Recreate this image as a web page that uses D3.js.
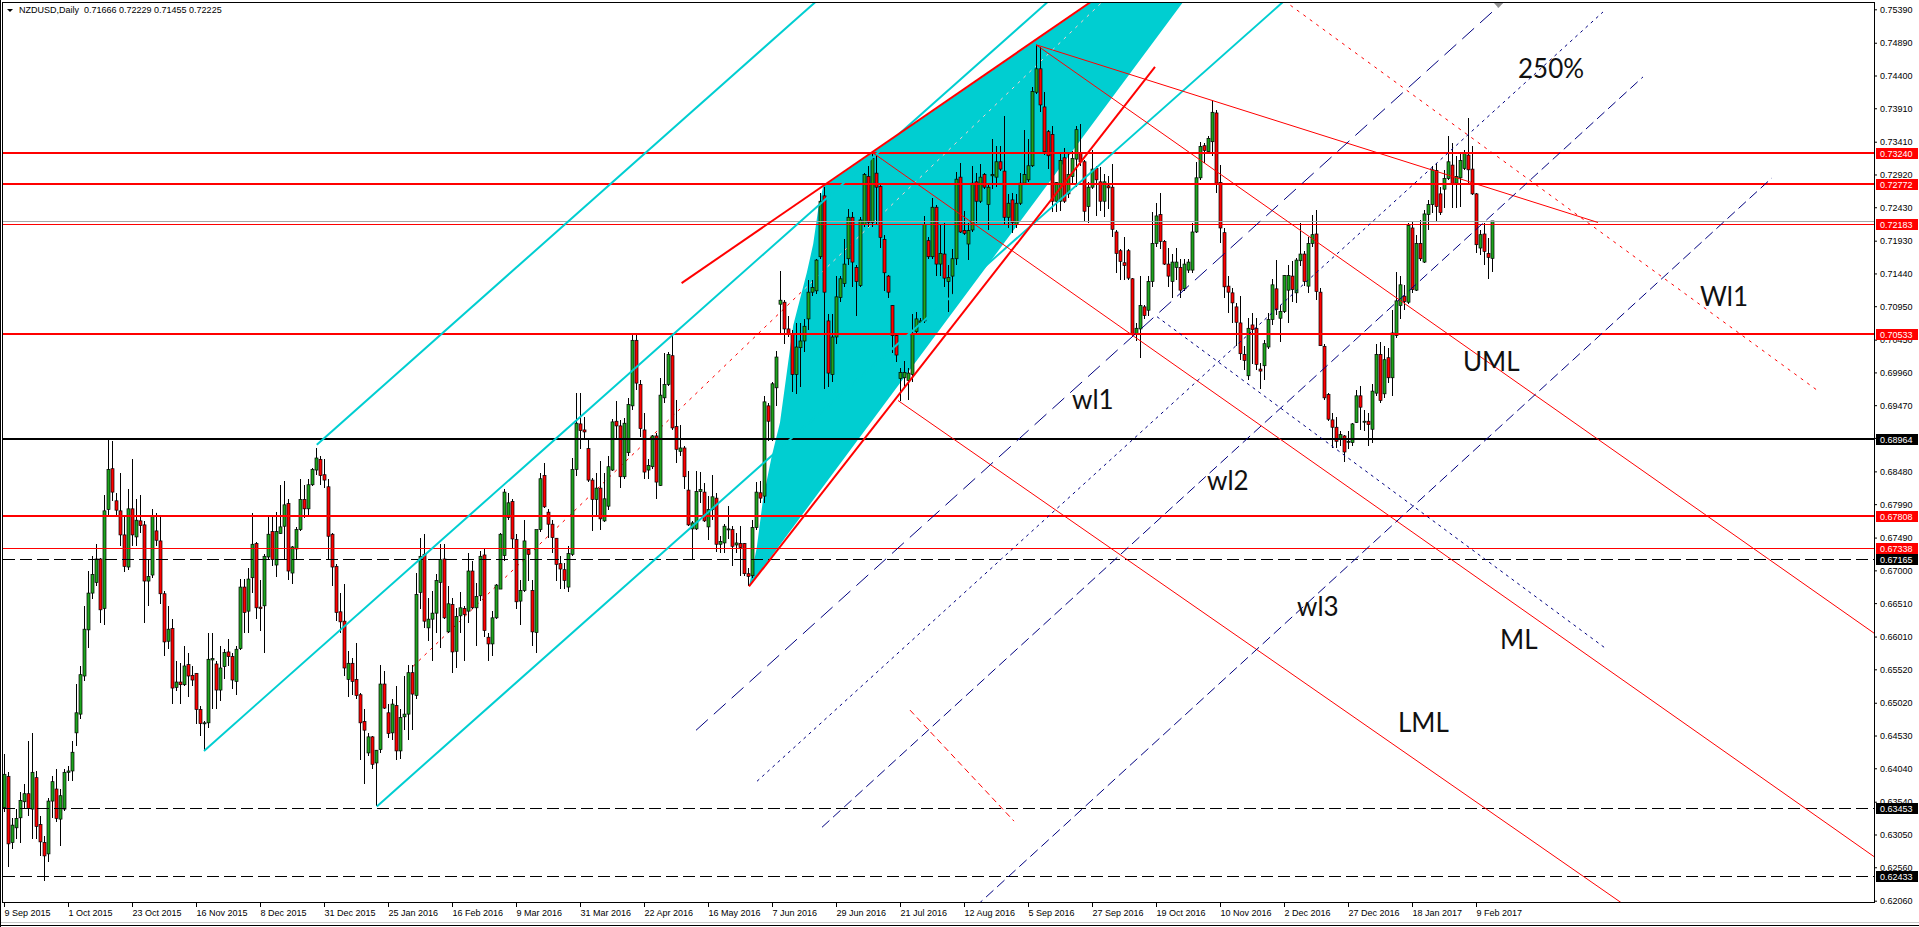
<!DOCTYPE html>
<html>
<head>
<meta charset="utf-8">
<script src="https://cdn.jsdelivr.net/npm/d3@7"></script>
<style>
body { margin:0; background:#fff; }
svg { display:block; }
.axis text, .hdr, .box text { font-family:"Liberation Sans", Arial, sans-serif; font-size:9px; }
.note { font-family:Lato, "Open Sans", sans-serif; font-size:26px; fill:#111; }
</style>
</head>
<body>
<svg id="chart" width="1919" height="927"></svg>
<script>
// ---- data ----
const header = "NZDUSD,Daily  0.71666 0.72229 0.71455 0.72225";

const dateLabels = ["9 Sep 2015","1 Oct 2015","23 Oct 2015","16 Nov 2015","8 Dec 2015","31 Dec 2015",
  "25 Jan 2016","16 Feb 2016","9 Mar 2016","31 Mar 2016","22 Apr 2016","16 May 2016","7 Jun 2016",
  "29 Jun 2016","21 Jul 2016","12 Aug 2016","5 Sep 2016","27 Sep 2016","19 Oct 2016","10 Nov 2016",
  "2 Dec 2016","27 Dec 2016","18 Jan 2017","9 Feb 2017"];

const priceTicks = ["0.75390","0.74890","0.74400","0.73910","0.73410","0.72920","0.72430","0.71930",
  "0.71440","0.70950","0.70450","0.69960","0.69470","0.68980","0.68480","0.67990","0.67490","0.67000",
  "0.66510","0.66010","0.65520","0.65020","0.64530","0.64040","0.63540","0.63050","0.62560","0.62060"];

// horizontal levels and their kind
const levels     = [0.73240, 0.72772, 0.72183, 0.70533, 0.68964, 0.67808, 0.67338, 0.67165, 0.63453, 0.62433];
const levelKinds = ["redThick","redThick","red","redThick","black","redThick","red","blackDash","blackDash","blackDash"];

// daily bars [open, high, low, close], first bar = 9 Sep 2015
const ohlc = [
[0.6345,0.6425,0.6338,0.6395],[0.6392,0.6398,0.6256,0.6291],[0.6293,0.6330,0.6283,0.6319],[0.6315,0.6343,0.6298,0.6329],[0.6330,0.6368,0.6293,0.6356],
[0.6354,0.6380,0.6345,0.6366],[0.6366,0.6445,0.6333,0.6344],[0.6343,0.6457,0.6298,0.6398],[0.6390,0.6400,0.6298,0.6317],[0.6320,0.6333,0.6273,0.6294],
[0.6293,0.6303,0.6236,0.6273],[0.6276,0.6360,0.6264,0.6355],[0.6355,0.6393,0.6330,0.6384],[0.6373,0.6403,0.6323,0.6329],[0.6328,0.6373,0.6288,0.6363],
[0.6343,0.6403,0.6340,0.6398],[0.6398,0.6408,0.6385,0.6400],[0.6400,0.6445,0.6385,0.6428],[0.6457,0.6530,0.6437,0.6487],[0.6485,0.6557,0.6477,0.6544],
[0.6542,0.6647,0.6534,0.6612],[0.6611,0.6699,0.6584,0.6666],[0.6666,0.6721,0.6657,0.6694],[0.6682,0.6740,0.6676,0.6717],[0.6717,0.6719,0.6621,0.6641],
[0.6643,0.6813,0.6618,0.6789],[0.6791,0.6896,0.6783,0.6851],[0.6852,0.6893,0.6803,0.6817],[0.6804,0.6816,0.6781,0.6790],[0.6789,0.6846,0.6736,0.6753],
[0.6753,0.6781,0.6698,0.6706],[0.6705,0.6821,0.6701,0.6792],[0.6792,0.6866,0.6736,0.6753],[0.6750,0.6806,0.6736,0.6775],[0.6774,0.6813,0.6756,0.6767],
[0.6768,0.6774,0.6622,0.6684],[0.6684,0.6716,0.6647,0.6691],[0.6693,0.6792,0.6689,0.6781],[0.6759,0.6786,0.6736,0.6745],[0.6744,0.6781,0.6650,0.6665],
[0.6665,0.6669,0.6572,0.6593],[0.6594,0.6647,0.6582,0.6612],[0.6613,0.6627,0.6500,0.6524],[0.6525,0.6564,0.6520,0.6533],[0.6533,0.6562,0.6500,0.6529],
[0.6529,0.6587,0.6527,0.6557],[0.6559,0.6577,0.6510,0.6542],[0.6543,0.6557,0.6527,0.6536],[0.6546,0.6547,0.6470,0.6492],[0.6492,0.6497,0.6452,0.6471],
[0.6471,0.6475,0.6430,0.6472],[0.6472,0.6607,0.6465,0.6567],[0.6566,0.6607,0.6492,0.6568],[0.6560,0.6564,0.6492,0.6521],[0.6521,0.6587,0.6505,0.6554],
[0.6556,0.6583,0.6537,0.6577],[0.6578,0.6597,0.6557,0.6571],[0.6571,0.6577,0.6522,0.6536],[0.6534,0.6587,0.6513,0.6582],[0.6583,0.6687,0.6581,0.6675],
[0.6675,0.6687,0.6607,0.6637],[0.6639,0.6704,0.6607,0.6687],[0.6689,0.6786,0.6666,0.6739],[0.6740,0.6742,0.6627,0.6644],[0.6645,0.6686,0.6609,0.6643],
[0.6647,0.6724,0.6577,0.6721],[0.6720,0.6781,0.6717,0.6754],[0.6758,0.6782,0.6706,0.6716],[0.6708,0.6788,0.6690,0.6758],[0.6755,0.6827,0.6754,0.6765],
[0.6766,0.6834,0.6717,0.6798],[0.6800,0.6806,0.6685,0.6699],[0.6696,0.6736,0.6680,0.6735],[0.6732,0.6765,0.6716,0.6761],[0.6761,0.6836,0.6759,0.6806],
[0.6806,0.6828,0.6778,0.6792],[0.6792,0.6837,0.6781,0.6828],[0.6828,0.6853,0.6826,0.6851],[0.6850,0.6883,0.6843,0.6868],[0.6866,0.6871,0.6828,0.6842],
[0.6843,0.6867,0.6823,0.6835],[0.6825,0.6836,0.6717,0.6751],[0.6754,0.6756,0.6676,0.6705],[0.6706,0.6709,0.6624,0.6637],[0.6638,0.6666,0.6607,0.6623],
[0.6624,0.6679,0.6542,0.6554],[0.6537,0.6579,0.6510,0.6561],[0.6561,0.6569,0.6514,0.6534],[0.6537,0.6591,0.6507,0.6513],[0.6514,0.6516,0.6417,0.6472],
[0.6474,0.6492,0.6380,0.6461],[0.6427,0.6457,0.6422,0.6451],[0.6451,0.6452,0.6403,0.6410],[0.6412,0.6432,0.6347,0.6431],[0.6432,0.6559,0.6427,0.6530],
[0.6530,0.6549,0.6492,0.6494],[0.6487,0.6500,0.6450,0.6456],[0.6457,0.6507,0.6447,0.6500],[0.6498,0.6527,0.6417,0.6430],[0.6430,0.6492,0.6418,0.6480],
[0.6481,0.6542,0.6462,0.6485],[0.6485,0.6559,0.6447,0.6547],[0.6547,0.6559,0.6462,0.6515],[0.6513,0.6696,0.6507,0.6664],[0.6667,0.6749,0.6642,0.6721],
[0.6724,0.6754,0.6614,0.6624],[0.6614,0.6659,0.6594,0.6627],[0.6627,0.6669,0.6564,0.6636],[0.6636,0.6694,0.6606,0.6685],[0.6682,0.6739,0.6584,0.6716],
[0.6717,0.6739,0.6627,0.6629],[0.6608,0.6677,0.6607,0.6650],[0.6649,0.6659,0.6546,0.6578],[0.6579,0.6644,0.6554,0.6631],[0.6632,0.6667,0.6607,0.6644],
[0.6643,0.6647,0.6564,0.6634],[0.6639,0.6726,0.6622,0.6699],[0.6699,0.6714,0.6642,0.6644],[0.6644,0.6681,0.6587,0.6661],[0.6662,0.6729,0.6654,0.6721],
[0.6723,0.6734,0.6600,0.6610],[0.6600,0.6607,0.6564,0.6590],[0.6590,0.6639,0.6572,0.6629],[0.6629,0.6679,0.6627,0.6678],[0.6672,0.6756,0.6672,0.6754],
[0.6722,0.6821,0.6714,0.6817],[0.6779,0.6816,0.6776,0.6801],[0.6803,0.6806,0.6734,0.6747],[0.6746,0.6754,0.6642,0.6653],[0.6654,0.6686,0.6618,0.6670],
[0.6670,0.6775,0.6667,0.6744],[0.6731,0.6734,0.6684,0.6724],[0.6670,0.6686,0.6587,0.6608],[0.6607,0.6761,0.6577,0.6761],[0.6761,0.6846,0.6758,0.6837],
[0.6842,0.6861,0.6793,0.6795],[0.6787,0.6792,0.6749,0.6769],[0.6769,0.6776,0.6726,0.6749],[0.6748,0.6749,0.6684,0.6709],[0.6710,0.6721,0.6672,0.6702],
[0.6701,0.6711,0.6672,0.6685],[0.6675,0.6736,0.6667,0.6725],[0.6724,0.6868,0.6721,0.6851],[0.6851,0.6965,0.6841,0.6920],[0.6919,0.6965,0.6881,0.6909],
[0.6910,0.6930,0.6896,0.6907],[0.6882,0.6896,0.6832,0.6835],[0.6835,0.6838,0.6759,0.6806],[0.6806,0.6846,0.6781,0.6823],[0.6823,0.6863,0.6761,0.6777],
[0.6774,0.6846,0.6772,0.6807],[0.6796,0.6871,0.6791,0.6855],[0.6850,0.6926,0.6848,0.6922],[0.6923,0.6953,0.6896,0.6916],[0.6916,0.6925,0.6823,0.6840],
[0.6840,0.6928,0.6836,0.6920],[0.6876,0.6958,0.6871,0.6948],[0.6946,0.7055,0.6940,0.7044],[0.7044,0.7055,0.6970,0.6980],[0.6978,0.6984,0.6900,0.6912],
[0.6910,0.6935,0.6836,0.6847],[0.6850,0.6866,0.6836,0.6857],[0.6855,0.6903,0.6851,0.6901],[0.6901,0.6906,0.6806,0.6832],[0.6827,0.6988,0.6826,0.6962],
[0.6958,0.7025,0.6950,0.6978],[0.6978,0.7026,0.6975,0.7023],[0.7021,0.7055,0.6910,0.6913],[0.6915,0.6955,0.6861,0.6881],[0.6878,0.6918,0.6871,0.6883],
[0.6883,0.6886,0.6821,0.6840],[0.6820,0.6848,0.6766,0.6768],[0.6762,0.6774,0.6716,0.6771],[0.6762,0.6848,0.6761,0.6818],[0.6818,0.6847,0.6801,0.6821],
[0.6817,0.6831,0.6772,0.6774],[0.6765,0.6811,0.6746,0.6791],[0.6791,0.6843,0.6776,0.6810],[0.6808,0.6816,0.6728,0.6739],[0.6739,0.6751,0.6726,0.6743],
[0.6741,0.6769,0.6726,0.6766],[0.6761,0.6796,0.6747,0.6762],[0.6761,0.6766,0.6706,0.6736],[0.6738,0.6756,0.6726,0.6741],[0.6740,0.6766,0.6692,0.6734],
[0.6740,0.6741,0.6691,0.6695],[0.6695,0.6704,0.6676,0.6691],[0.6692,0.6776,0.6689,0.6764],[0.6764,0.6832,0.6761,0.6817],[0.6816,0.6833,0.6801,0.6808],
[0.6811,0.6960,0.6801,0.6952],[0.6946,0.6950,0.6893,0.6923],[0.6896,0.6981,0.6893,0.6979],[0.6973,0.7028,0.6946,0.7019],[0.7098,0.7148,0.7054,0.7104],
[0.7101,0.7105,0.7039,0.7061],[0.7061,0.7081,0.7049,0.7054],[0.7054,0.7059,0.6966,0.6993],[0.6993,0.7070,0.6963,0.7034],[0.7033,0.7070,0.6974,0.7043],
[0.7043,0.7076,0.7027,0.7065],[0.7076,0.7134,0.7060,0.7116],[0.7116,0.7134,0.7110,0.7123],[0.7118,0.7166,0.7113,0.7164],[0.7169,0.7265,0.7166,0.7252],
[0.7260,0.7273,0.6971,0.7116],[0.7073,0.7084,0.6974,0.6995],[0.6993,0.7084,0.6982,0.7049],[0.7049,0.7140,0.7038,0.7109],[0.7108,0.7140,0.7102,0.7136],
[0.7129,0.7196,0.7124,0.7158],[0.7166,0.7241,0.7156,0.7228],[0.7228,0.7236,0.7124,0.7161],[0.7153,0.7156,0.7081,0.7132],[0.7126,0.7228,0.7124,0.7224],
[0.7217,0.7294,0.7214,0.7292],[0.7289,0.7305,0.7214,0.7220],[0.7220,0.7324,0.7214,0.7316],[0.7294,0.7320,0.7217,0.7273],[0.7274,0.7276,0.7182,0.7198],
[0.7195,0.7201,0.7118,0.7145],[0.7140,0.7141,0.7108,0.7116],[0.7096,0.7097,0.7025,0.7051],[0.7051,0.7054,0.7011,0.7022],[0.6987,0.7003,0.6953,0.6996],
[0.6988,0.7013,0.6974,0.6996],[0.6984,0.7003,0.6955,0.6995],[0.6993,0.7084,0.6982,0.7054],[0.7057,0.7086,0.7054,0.7076],[0.7071,0.7078,0.7068,0.7073],
[0.7073,0.7230,0.7070,0.7217],[0.7193,0.7198,0.7166,0.7169],[0.7169,0.7257,0.7166,0.7243],[0.7243,0.7247,0.7140,0.7158],[0.7158,0.7217,0.7140,0.7174],
[0.7173,0.7220,0.7124,0.7137],[0.7132,0.7157,0.7086,0.7138],[0.7140,0.7180,0.7110,0.7166],[0.7166,0.7295,0.7156,0.7285],[0.7288,0.7309,0.7204,0.7206],
[0.7208,0.7238,0.7201,0.7204],[0.7188,0.7220,0.7164,0.7208],[0.7209,0.7305,0.7206,0.7279],[0.7281,0.7294,0.7220,0.7252],[0.7252,0.7308,0.7249,0.7288],
[0.7292,0.7294,0.7271,0.7273],[0.7247,0.7276,0.7209,0.7273],[0.7290,0.7345,0.7271,0.7292],[0.7288,0.7335,0.7273,0.7311],[0.7311,0.7335,0.7297,0.7300],
[0.7297,0.7380,0.7217,0.7228],[0.7228,0.7263,0.7212,0.7249],[0.7254,0.7265,0.7204,0.7220],[0.7217,0.7263,0.7212,0.7249],[0.7249,0.7294,0.7247,0.7279],
[0.7279,0.7359,0.7276,0.7292],[0.7284,0.7345,0.7281,0.7305],[0.7305,0.7423,0.7303,0.7416],[0.7415,0.7486,0.7412,0.7450],[0.7450,0.7482,0.7385,0.7396],
[0.7393,0.7415,0.7321,0.7326],[0.7356,0.7359,0.7300,0.7320],[0.7352,0.7364,0.7236,0.7252],[0.7252,0.7281,0.7236,0.7280],[0.7252,0.7324,0.7238,0.7313],
[0.7317,0.7332,0.7249,0.7252],[0.7263,0.7324,0.7257,0.7292],[0.7289,0.7327,0.7279,0.7316],[0.7315,0.7364,0.7273,0.7359],[0.7325,0.7368,0.7305,0.7311],
[0.7311,0.7313,0.7222,0.7237],[0.7244,0.7281,0.7220,0.7273],[0.7273,0.7329,0.7271,0.7300],[0.7301,0.7305,0.7230,0.7284],[0.7281,0.7303,0.7238,0.7252],
[0.7252,0.7292,0.7228,0.7281],[0.7275,0.7289,0.7241,0.7272],[0.7273,0.7308,0.7198,0.7210],[0.7206,0.7209,0.7145,0.7174],[0.7178,0.7180,0.7134,0.7162],
[0.7160,0.7198,0.7134,0.7156],[0.7178,0.7180,0.7134,0.7137],[0.7136,0.7137,0.7049,0.7054],[0.7053,0.7070,0.7043,0.7062],[0.7061,0.7140,0.7018,0.7096],
[0.7094,0.7097,0.7076,0.7081],[0.7089,0.7140,0.7081,0.7132],[0.7132,0.7236,0.7124,0.7189],[0.7189,0.7249,0.7183,0.7230],[0.7232,0.7265,0.7181,0.7192],
[0.7192,0.7194,0.7156,0.7158],[0.7158,0.7182,0.7124,0.7140],[0.7132,0.7173,0.7108,0.7161],[0.7153,0.7182,0.7134,0.7161],[0.7153,0.7166,0.7108,0.7119],
[0.7121,0.7166,0.7118,0.7158],[0.7149,0.7166,0.7145,0.7161],[0.7149,0.7220,0.7145,0.7206],[0.7206,0.7311,0.7204,0.7287],[0.7287,0.7341,0.7284,0.7334],
[0.7335,0.7339,0.7309,0.7328],[0.7326,0.7349,0.7323,0.7346],[0.7341,0.7403,0.7319,0.7385],[0.7384,0.7389,0.7264,0.7279],[0.7280,0.7306,0.7189,0.7212],
[0.7205,0.7212,0.7107,0.7124],[0.7125,0.7140,0.7085,0.7116],[0.7115,0.7122,0.7070,0.7100],[0.7094,0.7100,0.7035,0.7071],[0.7070,0.7110,0.7015,0.7024],
[0.7023,0.7035,0.7000,0.7014],[0.6991,0.7077,0.6985,0.7062],[0.7067,0.7085,0.7008,0.7060],[0.7062,0.7077,0.7000,0.7008],[0.7001,0.7010,0.6971,0.6998],
[0.7006,0.7045,0.6985,0.7039],[0.7034,0.7085,0.7031,0.7075],[0.7075,0.7135,0.7067,0.7127],[0.7121,0.7164,0.7082,0.7090],[0.7077,0.7097,0.7042,0.7087],
[0.7087,0.7142,0.7085,0.7141],[0.7119,0.7157,0.7070,0.7141],[0.7140,0.7162,0.7102,0.7120],[0.7115,0.7167,0.7100,0.7164],[0.7163,0.7219,0.7155,0.7173],
[0.7173,0.7177,0.7125,0.7132],[0.7125,0.7199,0.7115,0.7189],[0.7189,0.7232,0.7184,0.7202],[0.7203,0.7239,0.7105,0.7117],[0.7116,0.7122,0.7035,0.7036],
[0.7035,0.7038,0.6955,0.6958],[0.6963,0.6965,0.6923,0.6926],[0.6925,0.6935,0.6883,0.6914],[0.6914,0.6930,0.6883,0.6893],[0.6896,0.6908,0.6886,0.6903],
[0.6901,0.6903,0.6862,0.6877],[0.6892,0.6908,0.6881,0.6893],[0.6891,0.6920,0.6886,0.6919],[0.6921,0.6970,0.6920,0.6961],[0.6961,0.6975,0.6910,0.6944],
[0.6922,0.6940,0.6908,0.6923],[0.6923,0.6935,0.6886,0.6918],[0.6911,0.6979,0.6891,0.6968],[0.6965,0.7038,0.6960,0.7023],[0.7023,0.7042,0.6950,0.6954],
[0.6964,0.7035,0.6958,0.7015],[0.7018,0.7033,0.6980,0.6988],[0.6988,0.7090,0.6960,0.7055],[0.7051,0.7146,0.7048,0.7103],[0.7096,0.7140,0.7076,0.7127],
[0.7110,0.7127,0.7090,0.7102],[0.7101,0.7219,0.7099,0.7216],[0.7212,0.7222,0.7115,0.7120],[0.7119,0.7202,0.7117,0.7189],[0.7189,0.7224,0.7162,0.7166],
[0.7161,0.7239,0.7160,0.7233],[0.7232,0.7254,0.7209,0.7247],[0.7247,0.7304,0.7234,0.7299],[0.7298,0.7309,0.7222,0.7244],[0.7263,0.7274,0.7232,0.7235],
[0.7270,0.7299,0.7242,0.7286],[0.7286,0.7350,0.7284,0.7311],[0.7306,0.7339,0.7242,0.7278],[0.7279,0.7319,0.7242,0.7289],[0.7287,0.7326,0.7244,0.7313],
[0.7301,0.7329,0.7299,0.7324],[0.7321,0.7376,0.7279,0.7299],[0.7300,0.7334,0.7262,0.7263],[0.7263,0.7264,0.7174,0.7187],[0.7182,0.7209,0.7172,0.7202],
[0.7203,0.7219,0.7157,0.7177],[0.7174,0.7197,0.7135,0.7168],[0.71666,0.72229,0.71455,0.72225]
];

// drawn objects, anchors as [bar index, price]
// [kind, i1, p1, i2, p2, ray]
const drawnLines = [
  ["cyan", 78.2, 0.6888, 178.2, 0.7419, 1],
  ["cyan", 50, 0.6430, 150, 0.6961, 1],
  ["cyan", 93.2, 0.6347, 193.2, 0.6878, 1],
  ["redThick", 169.4, 0.71295, 261.5, 0.75081, 1],
  ["redThick", 186.25, 0.6676, 287.75, 0.74528, 0],
  ["red", 258, 0.7486, 467.25, 0.66072, 1],
  ["red", 217.3, 0.7324, 467.25, 0.62730, 1],
  ["red", 223.5, 0.6954, 404, 0.62043, 1],
  ["red", 258, 0.7486, 398.5, 0.72202, 0],
  ["redDot", 320, 0.7552, 453.6, 0.6968, 0],
  ["redDash", 226.5, 0.6491, 252.5, 0.6325, 0],
  ["navyLong", 173, 0.64608, 352.3, 0.74284, 1],
  ["navyDot", 188.25, 0.63846, 399.75, 0.7535, 0],
  ["navyDash", 204.5, 0.63158, 409.75, 0.74379, 0],
  ["navyDash", 242.75, 0.61963, 442, 0.72870, 0],
  ["navyDot", 288.25, 0.70793, 400.75, 0.65818, 0]
];
// dotted red ray that runs under the cyan shape
const underLine = [102.25, 0.65564, 267.3, 0.75081];
// cyan filled shape
const fillShape = [[186.25,0.6676],[188.2,0.6734],[189.75,0.6806],[191.9,0.6870],[194,0.6921],
  [197.3,0.7066],[200.7,0.7145],[202.3,0.7188],[203.6,0.7242],[204.8,0.7274],[318.5,0.7741]];
// text objects [text, bar index, price]
const notes = [["250%",378.5,0.74364],["Wl1",424,0.70947],["UML",364.75,0.69976],["wl1",267,0.69419],
  ["wl2",300.75,0.68208],["wl3",323.25,0.66311],["ML",374,0.65818],["LML",348.5,0.64578]];

// ---- styles ----
const styles = {
  cyan:{stroke:"#00ced1", w:2},
  redThick:{stroke:"#ff0000", w:2},
  red:{stroke:"#ff0000", w:1},
  redDot:{stroke:"#ff0000", w:1, dash:"3,5"},
  redDash:{stroke:"#ff0000", w:1, dash:"6,4"},
  black:{stroke:"#000", w:2},
  blackDash:{stroke:"#000", w:1, dash:"12,5"},
  navyLong:{stroke:"#00007f", w:1, dash:"16,8"},
  navyDot:{stroke:"#00007f", w:1, dash:"3,4"},
  navyDash:{stroke:"#00007f", w:1, dash:"10,5"}
};

// ---- scales ----
const x = d3.scaleLinear().domain([0, 467.5]).range([4, 1874]);
const y = d3.scaleLinear().domain([0.62060, 0.75390]).range([900.7, 9.3]);

const svg = d3.select("#chart");
svg.append("rect").attr("width",1919).attr("height",927).attr("fill","#fff");

const defs = svg.append("defs");
defs.append("clipPath").attr("id","plotClip").append("rect")
  .attr("x",3).attr("y",3).attr("width",1871).attr("height",899);

const path = d3.line().x(d => x(d[0])).y(d => y(d[1]));
function seg(i1, p1, i2, p2, ray) {
  if (ray) { i2 = i1 + (i2 - i1) * 4; p2 = p1 + (p2 - p1) * 4; }
  return [[i1, p1], [i2, p2]];
}
function styleLine(sel, s) {
  sel.attr("fill","none").attr("stroke", s.stroke).attr("stroke-width", s.w)
     .attr("stroke-dasharray", s.dash || null);
}

const fillD = path(fillShape) + "Z";
defs.append("clipPath").attr("id","fillClip").append("path").attr("d", fillD);

const plot = svg.append("g").attr("clip-path","url(#plotClip)");

// background objects
const back = plot.append("g");
styleLine(back.append("path").attr("d", path(seg(...underLine, 1))), styles.redDot);
back.append("path").attr("d", fillD).attr("fill","#00ced1");
back.append("path").attr("d", path(seg(...underLine, 1)))
  .attr("clip-path","url(#fillClip)")
  .attr("fill","none").attr("stroke","#ffd0d2").attr("stroke-width",1).attr("stroke-dasharray","3,5");

// candles
const bars = plot.append("g");
bars.selectAll("line").data(ohlc).join("line")
  .attr("x1",(d,i) => x(i) + 0.5).attr("x2",(d,i) => x(i) + 0.5)
  .attr("y1",d => y(d[1])).attr("y2",d => y(d[2]))
  .attr("stroke","#000").attr("stroke-width",1).attr("shape-rendering","crispEdges");
bars.selectAll("rect").data(ohlc).join("rect")
  .attr("x",(d,i) => x(i) - 1).attr("width",3)
  .attr("y",d => y(Math.max(d[0], d[3])))
  .attr("height",d => Math.max(1, Math.abs(y(d[0]) - y(d[3]))))
  .attr("fill",d => d[3] >= d[0] ? "#1ea51e" : "#ff0000")
  .attr("stroke","#000").attr("stroke-width",0.7);

// horizontal levels + bid line
const last = ohlc[ohlc.length - 1];
plot.append("line").attr("x1",3).attr("x2",1874).attr("y1",Math.round(y(last[3]))+0.5).attr("y2",Math.round(y(last[3]))+0.5)
  .attr("stroke","#a8a8a8").attr("stroke-width",1);
levels.forEach((p, k) => {
  const s = styles[levelKinds[k]];
  const yy = s.w === 2 ? Math.round(y(p)) : Math.round(y(p)) + 0.5;
  styleLine(plot.append("line").attr("x1",3).attr("x2",1874).attr("y1",yy).attr("y2",yy), s);
});

// trend lines / channels / pitchfork
drawnLines.forEach(l => {
  styleLine(plot.append("path").attr("d", path(seg(l[1], l[2], l[3], l[4], l[5]))), styles[l[0]]);
});

// text objects
plot.selectAll("text.note").data(notes).join("text").attr("class","note")
  .attr("x",d => x(d[1])).attr("y",d => y(d[2])).text(d => d[0]);

// frame
svg.append("rect").attr("x",2.5).attr("y",2.5).attr("width",1872).attr("height",900)
  .attr("fill","none").attr("stroke","#000").attr("stroke-width",1);

// chart shift marker
svg.append("path").attr("d","M1494,3 L1503,3 L1498.5,8 Z").attr("fill","#909090");

// price axis
const yAxis = svg.append("g").attr("class","axis").attr("transform","translate(1874,0)")
  .call(d3.axisRight(y).tickValues(priceTicks.map(Number)).tickSize(3).tickPadding(3)
    .tickFormat((d, k) => priceTicks[k]));
yAxis.select(".domain").remove();
yAxis.selectAll("text").attr("fill","#000");

// time axis
const xAxis = svg.append("g").attr("class","axis").attr("transform","translate(0,902)")
  .call(d3.axisBottom(x).tickValues(dateLabels.map((d, k) => k * 16)).tickSize(5).tickPadding(3)
    .tickFormat((d, k) => dateLabels[k]));
xAxis.select(".domain").remove();
xAxis.selectAll("text").attr("text-anchor","start").attr("x",0).attr("fill","#000");

// level price boxes
const box = svg.append("g").attr("class","box");
levels.forEach((p, k) => {
  const col = levelKinds[k].startsWith("red") ? "#ff0000" : "#000";
  const yy = Math.round(y(p));
  box.append("rect").attr("x",1876).attr("y",yy - 5).attr("width",42).attr("height",11).attr("fill",col);
  box.append("text").attr("x",1880).attr("y",yy + 4).attr("fill","#fff").text(p.toFixed(5));
});

// header
svg.append("path").attr("d","M7,9 L13,9 L10,12 Z").attr("fill","#000");
svg.append("text").attr("class","hdr").attr("x",19).attr("y",13).attr("fill","#000").text(header)
  .attr("xml:space","preserve").style("white-space","pre");

// bottom window edge
svg.append("line").attr("x1",0).attr("x2",1919).attr("y1",922.5).attr("y2",922.5).attr("stroke","#c8c8c8");
svg.append("line").attr("x1",0).attr("x2",1919).attr("y1",925.5).attr("y2",925.5).attr("stroke","#000");
svg.append("line").attr("x1",0.5).attr("x2",0.5).attr("y1",0).attr("y2",927).attr("stroke","#000");
</script>
</body>
</html>
